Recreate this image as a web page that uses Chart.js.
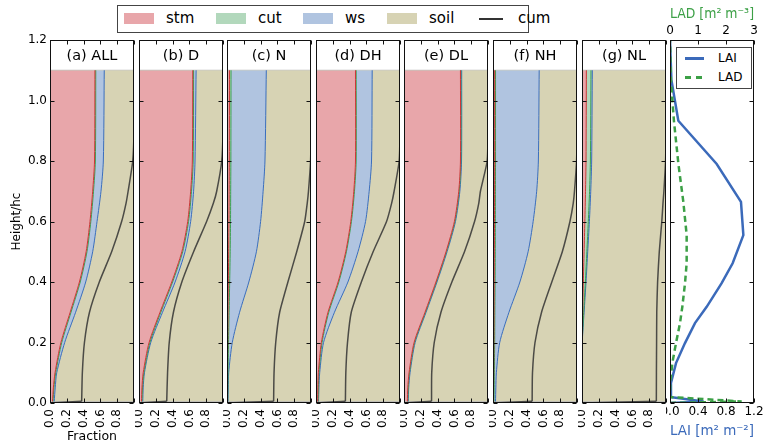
<!DOCTYPE html>
<html>
<head>
<meta charset="utf-8">
<script src="https://cdn.jsdelivr.net/npm/chart.js@4.4.1/dist/chart.umd.min.js"></script>
<style>
  body { margin: 0; background: #fff; font-family: 'DejaVu Sans', sans-serif; }
  #fig { position: relative; width: 764px; height: 446px; overflow: hidden; }
  .panel { position: absolute; top: 0; height: 446px; }
  .legend { position: absolute; border: 1px solid #444; background: #fff; box-sizing: border-box; }
  .legend span { position: absolute; line-height: 1; white-space: nowrap; }
</style>
</head>
<body>
<div id="fig">
  <div class="legend" style="left:117px;top:5px;width:412px;height:28px;font-size:15px;">
    <span style="left:6px;top:7px;width:30px;height:11px;background:rgb(232,166,170)"></span>
    <span style="left:48px;top:5px">stm</span>
    <span style="left:98px;top:7px;width:30px;height:11px;background:rgb(178,216,188)"></span>
    <span style="left:140px;top:5px">cut</span>
    <span style="left:185px;top:7px;width:30px;height:11px;background:rgb(176,196,224)"></span>
    <span style="left:227px;top:5px">ws</span>
    <span style="left:269px;top:7px;width:30px;height:11px;background:rgb(215,211,180)"></span>
    <span style="left:311px;top:5px">soil</span>
    <span style="left:361px;top:12px;width:24px;height:1.5px;background:#333"></span>
    <span style="left:400px;top:5px">cum</span>
  </div>
  <div class="legend" style="left:676px;top:47px;width:76px;height:42px;font-size:12px;z-index:2;">
    <span style="left:8px;top:9px;width:19px;height:2.5px;background:rgb(59,106,186)"></span>
    <span style="left:41px;top:4px">LAI</span>
    <span style="left:8px;top:28px;width:6px;height:2.5px;background:rgb(60,160,70)"></span>
    <span style="left:19px;top:28px;width:6px;height:2.5px;background:rgb(60,160,70)"></span>
    <span style="left:41px;top:23px">LAD</span>
  </div>
</div>
<script>
// heights/hc at which the fraction profiles are read
const heights = [0.005, 0.05, 0.1, 0.2, 0.3, 0.4, 0.5, 0.6, 0.7, 0.8, 1.1];
const cumHeights = [0, 0.006, 0.1, 0.2, 0.3, 0.4, 0.5, 0.6, 0.66, 0.7, 0.8, 0.9, 1.1];
const panelTitles = ['(a) ALL', '(b) D', '(c) N', '(d) DH', '(e) DL', '(f) NH', '(g) NL'];

// cumulative right edges of each component, one row per panel (a..g)
const stmEdge = [
  [0.03, 0.04, 0.06, 0.13, 0.24, 0.35, 0.43, 0.476, 0.508, 0.53, 0.535],
  [0.03, 0.035, 0.05, 0.12, 0.25, 0.39, 0.51, 0.58, 0.615, 0.635, 0.64],
  [0.003, 0.004, 0.005, 0.008, 0.012, 0.016, 0.02, 0.024, 0.026, 0.028, 0.03],
  [0.02, 0.022, 0.028, 0.064, 0.143, 0.263, 0.354, 0.414, 0.45, 0.47, 0.47],
  [0.04, 0.045, 0.06, 0.12, 0.25, 0.38, 0.5, 0.6, 0.652, 0.672, 0.672],
  [0.005, 0.006, 0.008, 0.01, 0.012, 0.014, 0.016, 0.018, 0.019, 0.02, 0.02],
  [0, 0, 0, 0.001, 0.008, 0.016, 0.025, 0.034, 0.042, 0.048, 0.052]
];
const cutEdge = [
  [0.035, 0.047, 0.068, 0.14, 0.25, 0.36, 0.44, 0.486, 0.518, 0.54, 0.545],
  [0.035, 0.042, 0.058, 0.13, 0.26, 0.40, 0.52, 0.59, 0.625, 0.645, 0.65],
  [0.008, 0.01, 0.012, 0.018, 0.025, 0.032, 0.038, 0.042, 0.044, 0.046, 0.048],
  [0.025, 0.028, 0.035, 0.072, 0.152, 0.272, 0.362, 0.422, 0.458, 0.478, 0.478],
  [0.045, 0.05, 0.065, 0.125, 0.255, 0.385, 0.505, 0.605, 0.657, 0.677, 0.677],
  [0.012, 0.014, 0.016, 0.02, 0.022, 0.025, 0.027, 0.028, 0.029, 0.03, 0.03],
  [0, 0, 0, 0.002, 0.02, 0.04, 0.058, 0.075, 0.09, 0.1, 0.107]
];
const wsEdge = [
  [0.05, 0.062, 0.08, 0.175, 0.305, 0.425, 0.508, 0.56, 0.607, 0.635, 0.646],
  [0.045, 0.05, 0.065, 0.14, 0.28, 0.43, 0.548, 0.615, 0.65, 0.667, 0.68],
  [0.012, 0.015, 0.02, 0.063, 0.15, 0.26, 0.35, 0.40, 0.43, 0.452, 0.468],
  [0.03, 0.035, 0.044, 0.09, 0.22, 0.38, 0.50, 0.59, 0.633, 0.661, 0.669],
  [0.05, 0.056, 0.072, 0.133, 0.263, 0.393, 0.513, 0.613, 0.665, 0.685, 0.687],
  [0.03, 0.034, 0.04, 0.08, 0.19, 0.32, 0.418, 0.478, 0.52, 0.54, 0.55],
  [0, 0, 0, 0.003, 0.025, 0.048, 0.068, 0.088, 0.104, 0.115, 0.123]
];
const cumFrac = [
  [0, 0.377, 0.385, 0.41, 0.47, 0.587, 0.734, 0.853, 0.905, 0.93, 0.985, 1, 1],
  [0, 0.33, 0.34, 0.36, 0.41, 0.51, 0.65, 0.805, 0.885, 0.925, 0.985, 1, 1],
  [0, 0.555, 0.56, 0.58, 0.627, 0.725, 0.83, 0.925, 0.955, 0.97, 0.995, 1, 1],
  [0, 0.35, 0.355, 0.375, 0.42, 0.54, 0.68, 0.84, 0.9, 0.93, 0.99, 1, 1],
  [0, 0.328, 0.33, 0.36, 0.44, 0.57, 0.72, 0.84, 0.89, 0.91, 0.99, 1, 1],
  [0, 0.466, 0.47, 0.5, 0.578, 0.70, 0.825, 0.916, 0.955, 0.97, 0.995, 1, 1],
  [0, 0.885, 0.886, 0.888, 0.89, 0.90, 0.92, 0.95, 0.964, 0.975, 0.995, 1, 1]
];

// canopy profile (right panel)
const laiHeights = [0, 0.005, 0.02, 0.066, 0.132, 0.198, 0.264, 0.318, 0.396, 0.462, 0.555, 0.665, 0.79, 0.933, 1.068, 1.2];
const laiValues = [0, 0.48, 0, 0.014, 0.086, 0.214, 0.357, 0.524, 0.738, 0.895, 1.048, 1.014, 0.667, 0.119, 0.02, 0];
const ladValues = [0, 2.56, 0, 0.01, 0.083, 0.214, 0.357, 0.44, 0.536, 0.595, 0.595, 0.476, 0.3, 0.14, 0.03, 0];

const PINK = 'rgb(232,166,170)', RED = 'rgb(205,55,55)';
const MINT = 'rgb(178,216,188)', GREEN = 'rgb(60,160,80)';
const SKY = 'rgb(176,196,224)', BLUE = 'rgb(58,110,190)';
const TAN = 'rgb(215,211,180)';
const CUM = 'rgba(50,50,50,0.85)';

Chart.defaults.font.family = '"DejaVu Sans", sans-serif';
Chart.defaults.font.size = 12;
Chart.defaults.color = '#000';

const fig = document.getElementById('fig');
const panelLeft = [50, 139, 227, 316, 404, 493, 582, 670];
const PW = 84;

const pts = (hs, vs) => hs.map((h, k) => ({x: vs[k], y: h}));

// frame with inward ticks on every side + panel title
const framePlugin = {
  id: 'frame',
  afterDatasetsDraw(chart, args, o) {
    const {ctx, chartArea: a, scales} = chart;
    const L = Math.round(a.left) + 0.5, R = Math.round(a.right) - 0.5;
    const T = Math.round(a.top) + 0.5, B = Math.round(a.bottom) - 0.5;
    const px = v => Math.round(v) + 0.5;
    ctx.save();
    ctx.strokeStyle = '#111';
    ctx.lineWidth = 1;
    ctx.beginPath();
    scales.y.ticks.forEach(t => {
      const p = px(scales.y.getPixelForValue(t.value));
      ctx.moveTo(L, p); ctx.lineTo(L + 4, p);
      ctx.moveTo(R, p); ctx.lineTo(R - 4, p);
    });
    scales.x.ticks.forEach(t => {
      const p = px(scales.x.getPixelForValue(t.value));
      ctx.moveTo(p, B); ctx.lineTo(p, B - 4);
      if (o.xTop) { ctx.moveTo(p, T); ctx.lineTo(p, T + 4); }
    });
    if (scales.x2) scales.x2.ticks.forEach(t => {
      const p = px(scales.x2.getPixelForValue(t.value));
      ctx.moveTo(p, T); ctx.lineTo(p, T + 4);
    });
    ctx.stroke();
    ctx.strokeRect(L, T, R - L, B - T);
    if (o.title) {
      ctx.fillStyle = '#000';
      ctx.font = '14.5px "DejaVu Sans"';
      ctx.textAlign = 'center';
      ctx.textBaseline = 'middle';
      ctx.fillText(o.title, (a.left + a.right) / 2, scales.y.getPixelForValue(1.15) + 1);
    }
    ctx.restore();
  }
};

function makeWrap(left, width) {
  const wrap = document.createElement('div');
  wrap.className = 'panel';
  wrap.style.left = left + 'px';
  wrap.style.width = width + 'px';
  const cv = document.createElement('canvas');
  wrap.appendChild(cv);
  fig.appendChild(wrap);
  return cv;
}

function fractionChart(i) {
  const first = i === 0;
  const padL = first ? 50 : 4, padR = 4;
  const cv = makeWrap(panelLeft[i] - padL, padL + PW + padR);
  const cumPts = pts(cumHeights, cumFrac[i]);
  new Chart(cv, {
    type: 'line',
    data: {
      datasets: [
        // foot of the cumulative curve (straight) and its smooth body
        {label: 'cum0', data: cumPts.slice(0, 2), borderColor: CUM, borderWidth: 1.5, fill: false, tension: 0},
        {label: 'cum', data: cumPts.slice(1), borderColor: CUM, borderWidth: 1.5, fill: false, tension: 0.2},
        {label: 'stm', data: pts(heights, stmEdge[i]), borderColor: RED, backgroundColor: PINK, fill: {value: 0}},
        {label: 'cut', data: pts(heights, cutEdge[i]), borderColor: GREEN, backgroundColor: MINT, fill: {value: 0}},
        {label: 'ws', data: pts(heights, wsEdge[i]), borderColor: BLUE, backgroundColor: SKY, fill: {value: 0}},
        {label: 'soil', data: heights.map(h => ({x: 1, y: h})), borderColor: 'rgba(0,0,0,0)', backgroundColor: TAN, fill: {value: 0}},
        {label: 'top', data: [{x: 0, y: 1.1}, {x: 1, y: 1.1}], borderColor: '#b8b8b8', tension: 0},
        {label: 'base', data: [{x: 0, y: heights[0]}, {x: 1, y: heights[0]}], borderColor: '#b8b8b8', tension: 0}
      ]
    },
    options: {
      indexAxis: 'y',
      animation: false,
      responsive: true,
      maintainAspectRatio: false,
      layout: {padding: {top: 40, right: padR, left: 0, bottom: 0}},
      elements: {point: {radius: 0}, line: {borderWidth: 1, tension: 0.25}},
      plugins: {legend: {display: false}, tooltip: {enabled: false}, frame: {title: panelTitles[i], xTop: true}},
      scales: {
        x: {
          type: 'linear', min: 0, max: 1,
          grid: {display: false, drawTicks: false}, border: {display: false},
          ticks: {stepSize: 0.2, minRotation: 90, maxRotation: 90, autoSkip: false, padding: 6,
                  callback: v => v > 0.99 ? '' : v.toFixed(1)},
          title: {display: first, text: 'Fraction', font: {size: 12.5}, padding: {top: 0, bottom: 1.5}},
          afterFit: s => { s.height = 43; s.paddingLeft = 0; s.paddingRight = 0; }
        },
        y: {
          type: 'linear', min: 0, max: 1.2,
          grid: {display: false, drawTicks: false}, border: {display: false},
          ticks: {display: first, stepSize: 0.2, padding: 3, callback: v => v.toFixed(1)},
          title: {display: first, text: 'Height/hc', padding: {top: 10, bottom: 0}},
          afterFit: s => { s.width = padL; s.paddingTop = 0; s.paddingBottom = 0; }
        }
      }
    },
    plugins: [framePlugin]
  });
}

for (let i = 0; i < 7; i++) fractionChart(i);

// LAI / LAD panel
(function profileChart() {
  const padL = 4, padR = 10;
  const cv = makeWrap(panelLeft[7] - padL, padL + PW + padR);
  new Chart(cv, {
    type: 'line',
    data: {
      datasets: [
        {label: 'LAD', data: pts(laiHeights, ladValues), xAxisID: 'x2', borderColor: 'rgb(60,160,70)', borderWidth: 2.5, borderDash: [6, 4], fill: false},
        {label: 'LAI', data: pts(laiHeights, laiValues), xAxisID: 'x', borderColor: 'rgb(59,106,186)', borderWidth: 2.5, fill: false}
      ]
    },
    options: {
      indexAxis: 'y',
      animation: false,
      responsive: true,
      maintainAspectRatio: false,
      layout: {padding: {top: 0, right: padR, left: 0, bottom: 0}},
      elements: {point: {radius: 0}, line: {tension: 0}},
      plugins: {legend: {display: false}, tooltip: {enabled: false}, frame: {xTop: false}},
      scales: {
        x: {
          type: 'linear', position: 'bottom', min: 0, max: 1.2,
          grid: {display: false, drawTicks: false}, border: {display: false},
          ticks: {stepSize: 0.4, maxRotation: 0, autoSkip: false, padding: 2, callback: v => v.toFixed(1)},
          title: {display: true, text: 'LAI [m² m⁻²]', color: 'rgb(59,106,186)', font: {size: 13.5}, padding: {top: 0, bottom: 6}},
          afterFit: s => { s.height = 43; s.paddingLeft = 0; s.paddingRight = 0; }
        },
        x2: {
          type: 'linear', position: 'top', min: 0, max: 3,
          grid: {display: false, drawTicks: false}, border: {display: false},
          ticks: {stepSize: 1, maxRotation: 0, autoSkip: false, padding: 2, callback: v => String(Math.round(v))},
          title: {display: true, text: 'LAD [m² m⁻³]', color: 'rgb(60,160,70)', font: {size: 13.5}, padding: {top: 6, bottom: 0}},
          afterFit: s => { s.height = 40; s.paddingLeft = 0; s.paddingRight = 0; }
        },
        y: {
          type: 'linear', min: 0, max: 1.2,
          grid: {display: false, drawTicks: false}, border: {display: false},
          ticks: {display: false, stepSize: 0.2},
          afterFit: s => { s.width = padL; s.paddingTop = 0; s.paddingBottom = 0; }
        }
      }
    },
    plugins: [framePlugin]
  });
})();
</script>
</body>
</html>
